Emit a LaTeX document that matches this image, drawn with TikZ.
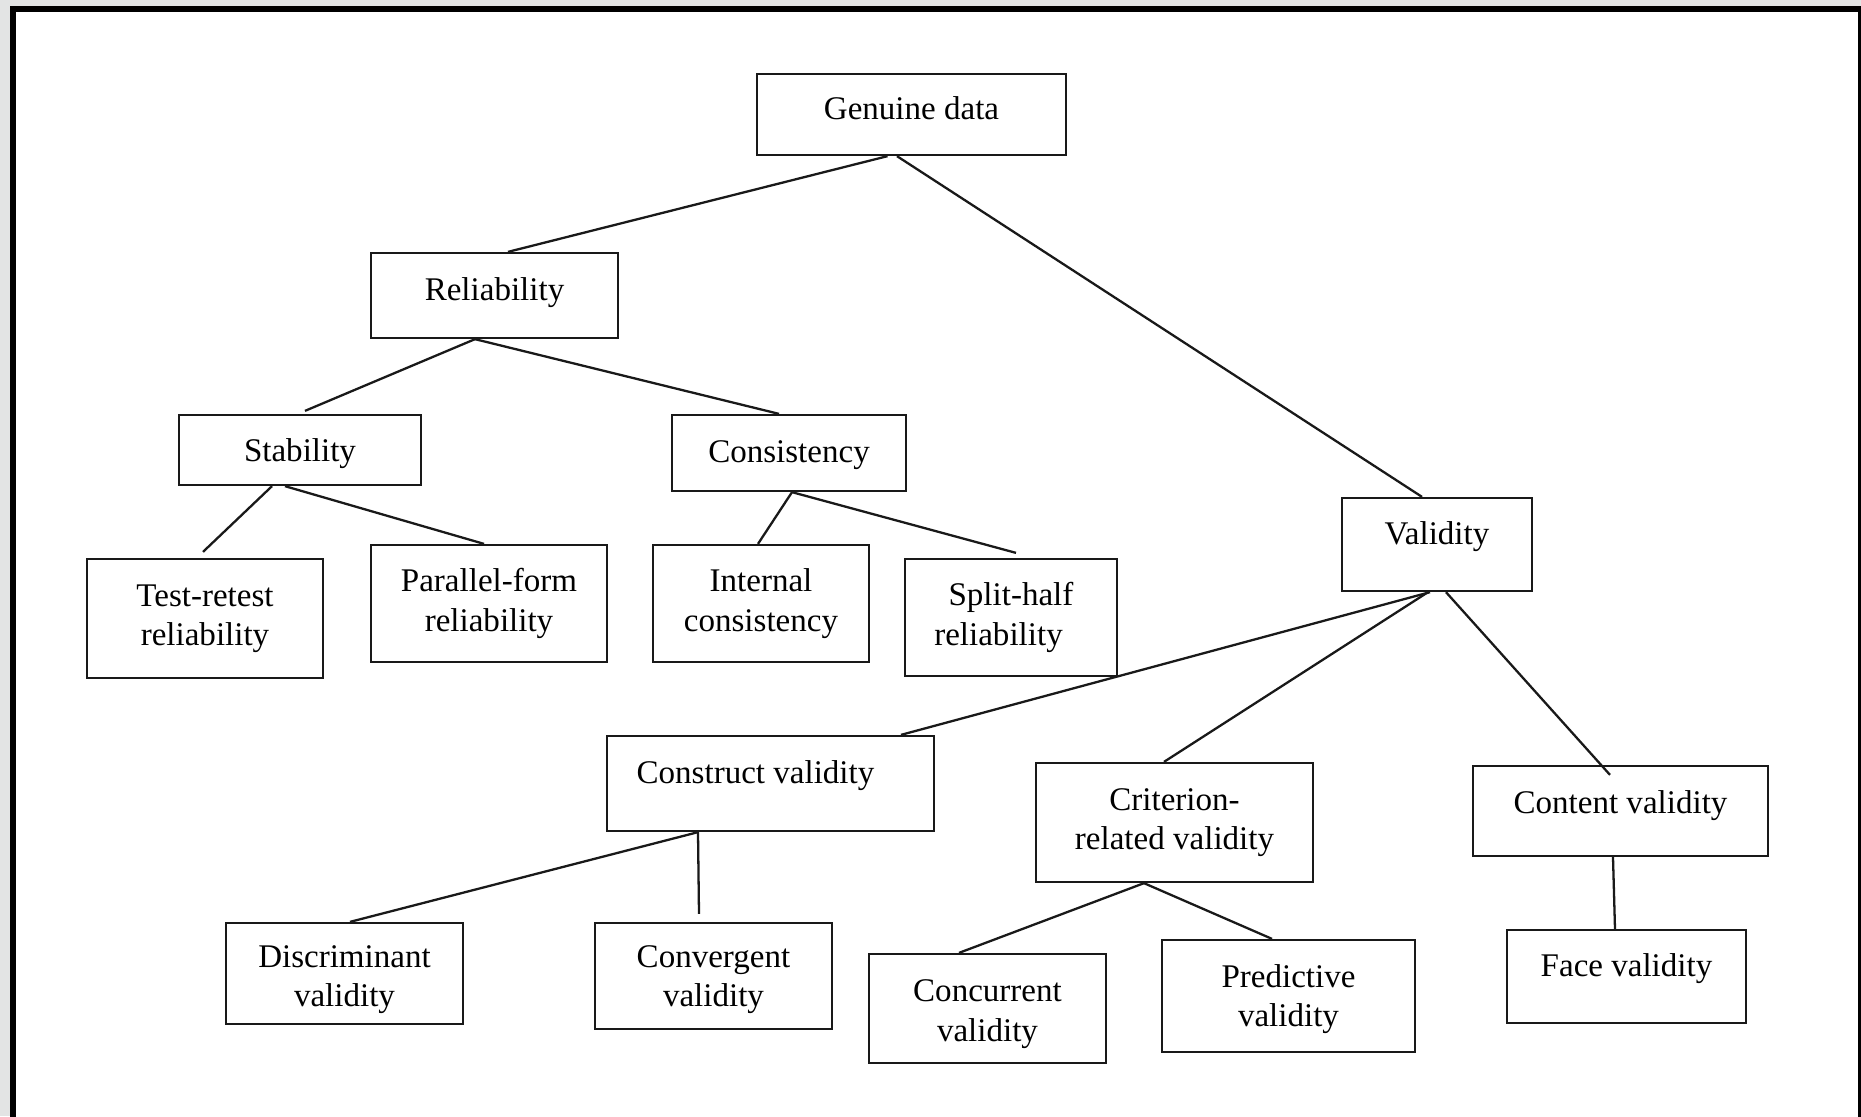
\documentclass[tikz,border=0pt]{standalone}
\usepackage{fontspec}
\setmainfont{Liberation Serif}
\definecolor{pagegray}{RGB}{227,228,228}

\begin{document}
\begin{tikzpicture}[
        box/.style={draw=black!90, line width=0.65pt, align=center, inner sep=0pt, fill=white, font=\fontsize{9.4}{11.2}\selectfont},
        high/.style={text height=0.23cm, text depth=0.23cm},
        midhigh/.style={text height=0.23cm, text depth=0.13cm},
        link/.style={draw=black!90, line width=0.65pt}
    ]
        % Page with its dark frame
        \useasboundingbox (0,0) rectangle (18.61,-11.16);
        \fill[pagegray] (0,0) rectangle (18.61,-11.16);
        \clip (0,0) rectangle (18.61,-11.16);
        \draw[line width=0.06cm, fill=white] (0.13,-0.09) rectangle (18.61,-11.5);

        % Top levels
        \node[box, midhigh, minimum width=3.09cm, minimum height=0.81cm] (genuine) at (9.115,-1.145) {Genuine data};
        \node[box, midhigh, minimum width=2.47cm, minimum height=0.85cm] (rel) at (4.945,-2.955) {Reliability};
        \node[box, text height=0.23cm, text depth=0cm, minimum width=2.42cm, minimum height=0.70cm] (stab) at (3.00,-4.50) {Stability};
        \node[box, text height=0.23cm, text depth=0.04cm, minimum width=2.34cm, minimum height=0.76cm] (cons) at (7.89,-4.53) {Consistency};
        \node[box, high, minimum width=1.90cm, minimum height=0.93cm] (valid) at (14.37,-5.445) {Validity};

        % Reliability branch
        \node[box, minimum width=2.36cm, minimum height=1.19cm] (testretest) at (2.05,-6.185) {Test-retest\\reliability};
        \node[box, minimum width=2.36cm, minimum height=1.17cm] (parallel) at (4.89,-6.035) {Parallel-form\\reliability};
        \node[box, minimum width=2.16cm, minimum height=1.17cm] (internal) at (7.61,-6.035) {Internal\\consistency};
        \node[box, minimum width=2.12cm, minimum height=1.17cm] (split) at (10.11,-6.175) {Split-half\\reliability\hspace*{0.25cm}};

        % Validity branch
        \node[box, high, minimum width=3.27cm, minimum height=0.95cm] (construct) at (7.705,-7.835) {Construct validity\hspace*{0.3cm}};
        \node[box, minimum width=2.77cm, minimum height=1.19cm] (criterion) at (11.745,-8.225) {Criterion-\\related validity};
        \node[box, high, text depth=0.18cm, minimum width=2.95cm, minimum height=0.90cm] (content) at (16.205,-8.11) {Content validity};
        \node[box, minimum width=2.37cm, minimum height=1.01cm] (discrim) at (3.445,-9.735) {\rule{0pt}{0.34cm}Discriminant\\validity};
        \node[box, minimum width=2.37cm, minimum height=1.06cm] (converg) at (7.135,-9.76) {\rule{0pt}{0.29cm}Convergent\\validity};
        \node[box, minimum width=2.37cm, minimum height=1.09cm] (concur) at (9.875,-10.085) {\rule{0pt}{0.33cm}Concurrent\\validity};
        \node[box, minimum width=2.53cm, minimum height=1.12cm] (predict) at (12.885,-9.96) {\rule{0pt}{0.29cm}Predictive\\validity};
        \node[box, high, minimum width=2.39cm, minimum height=0.93cm] (face) at (16.265,-9.765) {Face validity};

        % Connect the boxes with plain lines
        \draw[link] ([xshift=-0.24cm]genuine.south) -- ([xshift=0.135cm]rel.north);
        \draw[link] ([xshift=-0.145cm]genuine.south) -- ([xshift=-0.15cm]valid.north);
        \draw[link] ([xshift=-0.195cm]rel.south) -- ([xshift=0.05cm,yshift=0.03cm]stab.north);
        \draw[link] ([xshift=-0.195cm]rel.south) -- ([xshift=-0.10cm]cons.north);
        \draw[link] ([xshift=-0.28cm]stab.south) -- ([xshift=-0.02cm,yshift=0.06cm]testretest.north);
        \draw[link] ([xshift=-0.15cm]stab.south) -- ([xshift=-0.05cm]parallel.north);
        \draw[link] ([xshift=0.03cm]cons.south) -- ([xshift=-0.03cm]internal.north);
        \draw[link] ([xshift=0.03cm]cons.south) -- ([xshift=0.05cm,yshift=0.05cm]split.north);
        \draw[link] ([xshift=-0.07cm]valid.south) -- ([xshift=1.305cm]construct.north);
        \draw[link] ([xshift=-0.09cm]valid.south) -- ([xshift=-0.105cm]criterion.north);
        \draw[link] ([xshift=0.09cm]valid.south) -- ([xshift=-0.105cm,yshift=-0.10cm]content.north);
        \draw[link] ([xshift=-0.725cm]construct.south) -- ([xshift=0.055cm]discrim.north);
        \draw[link] ([xshift=-0.725cm]construct.south) -- ([xshift=-0.145cm,yshift=0.08cm]converg.north);
        \draw[link] ([xshift=-0.305cm]criterion.south) -- ([xshift=-0.285cm]concur.north);
        \draw[link] ([xshift=-0.305cm]criterion.south) -- ([xshift=-0.165cm]predict.north);
        \draw[link] ([xshift=-0.075cm]content.south) -- ([xshift=-0.115cm]face.north);
    \end{tikzpicture}
\end{document}
